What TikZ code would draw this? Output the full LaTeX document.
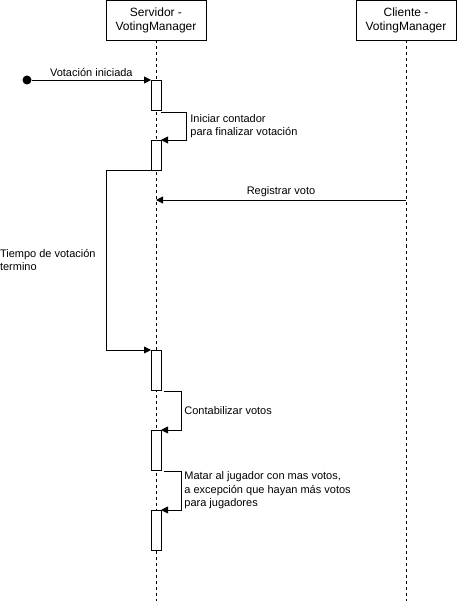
\documentclass[tikz,border=0pt]{standalone}
\usepackage{fontspec}
\setmainfont{Liberation Sans}
\usetikzlibrary{arrows.meta,positioning}
\tikzset{
  msg/.style={-{Triangle[length=7pt,width=7pt]}, line width=0.8pt},
  lifeline/.style={line width=0.7pt, dash pattern=on 3pt off 3pt},
  actor/.style={draw, line width=0.8pt, minimum width=100pt, minimum height=40pt,
    inner sep=0pt, outer sep=0pt, align=center, font=\fontsize{12}{14}\selectfont},
  actbar/.style={draw, fill=white, line width=0.8pt, minimum width=10pt,
    inner sep=0pt, outer sep=0pt},
  lab/.style={font=\fontsize{11}{13.5}\selectfont, align=left, inner sep=2pt},
}

\begin{document}
\begin{tikzpicture}[x=1pt,y=-1pt]
\useasboundingbox (0,0) rectangle (457,601);

% ===================== actors and lifelines ================================
\node[actor] (srv) at (156,20.5) {Servidor -\\VotingManager};
\node[actor] (cli) at (406,20.5) {Cliente -\\VotingManager};
\coordinate (srvEnd) at (156,601);
\coordinate (cliEnd) at (406,601);
\draw[lifeline] (srv.south) -- (srvEnd);
\draw[lifeline] (cli.south) -- (cliEnd);

% ===================== activation bars =====================================
\node[actbar, minimum height=30pt] (b1) at (156,95)  {};
\node[actbar, minimum height=30pt] (b2) at (156,155) {};
\node[actbar, minimum height=40pt] (b3) at (156,370) {};
\node[actbar, minimum height=40pt] (b4) at (156,450) {};
\node[actbar, minimum height=40pt] (b5) at (156,530) {};

% ===================== messages ============================================
\node[circle, fill, minimum size=9pt, inner sep=0pt] (start) at (27,80) {};
\draw[msg] (start) -- (b1.north west)
  node[lab, midway, above=1pt] {Votación iniciada};

\draw[msg] ([yshift=-2pt]b1.south east) -- ++(25,0)
  |- node[lab, pos=0.25, right=2pt] {Iniciar contador\\para finalizar votación} (b2.north east);

\draw[msg] (b2.south west) -- ++(-45,0)
  |- node[lab, pos=0.25, left=8pt] {Tiempo de votación\\termino} (b3.north west);

\coordinate (cliReg) at (406,200);
\coordinate (srvReg) at (156,200);
\draw[msg] (cliReg) -- (srvReg)
  node[lab, midway, above=1pt] {Registrar voto};

\draw[msg] ([xshift=3pt,yshift=-1pt]b3.south east) -- ++(17,0)
  |- node[lab, pos=0.25, right=1pt] {Contabilizar votos} (b4.north east);

\draw[msg] ([xshift=3pt,yshift=-1pt]b4.south east) -- ++(17,0)
  |- node[lab, pos=0.25, right=1pt] {Matar al jugador con mas votos,\\a excepción que hayan más votos\\para jugadores} (b5.north east);

\end{tikzpicture}
\end{document}
